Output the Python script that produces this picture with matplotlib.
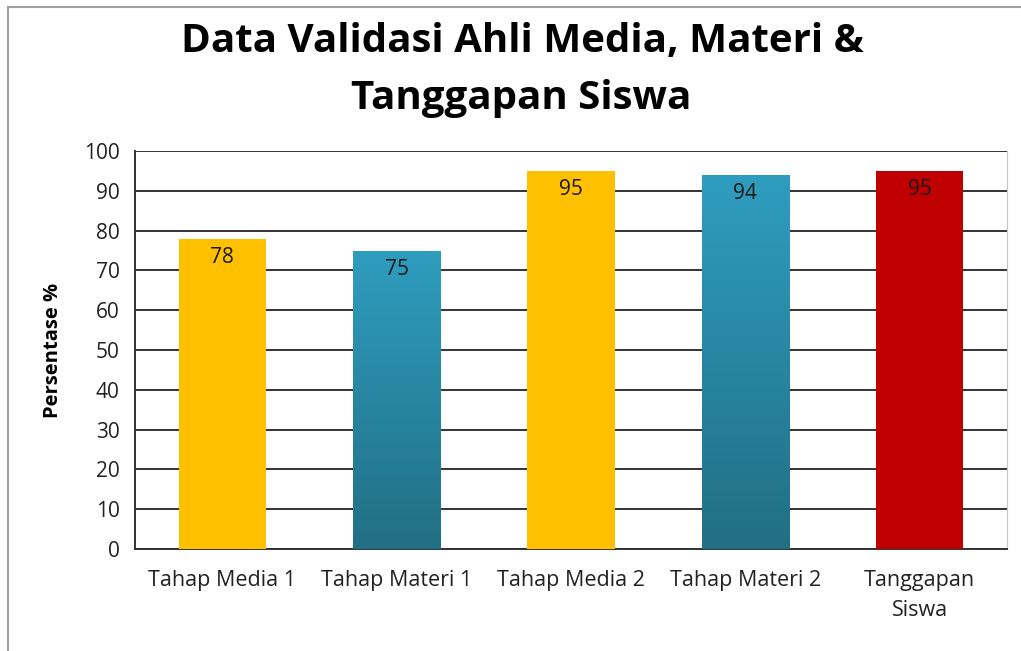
import numpy as np
import matplotlib.pyplot as plt
from matplotlib.colors import LinearSegmentedColormap
from matplotlib.lines import Line2D

plt.rcParams['font.family'] = ['Open Sans', 'DejaVu Sans']

# data
categories = ['Tahap Media 1', 'Tahap Materi 1', 'Tahap Media 2', 'Tahap Materi 2', 'Tanggapan\nSiswa']
values = [78, 75, 95, 94, 95]
bar_colors = ['#FFC000', 'teal', '#FFC000', 'teal', '#C00000']
yticks = list(range(0, 101, 10))
title_lines = ['Data Validasi Ahli Media, Materi &', 'Tanggapan Siswa']

fig = plt.figure(figsize=(10.21, 6.51), dpi=100)
ax = fig.add_axes([0.1322, 0.1567, 0.8541, 0.6113])

x = np.arange(len(categories))
bars = ax.bar(x, values, width=0.5, color=[c if c != 'teal' else '#2A87A3' for c in bar_colors], zorder=3)

# teal bars get a vertical gradient (light top, darker bottom)
teal_cmap = LinearSegmentedColormap.from_list('teal', ['#216F84', '#2F9DBF'])
grad = np.linspace(0, 1, 256).reshape(-1, 1)
for b, c in zip(bars, bar_colors):
    if c == 'teal':
        im = ax.imshow(grad, cmap=teal_cmap, origin='lower', aspect='auto', zorder=4,
                       extent=[b.get_x(), b.get_x() + b.get_width(), 0, b.get_height()])
        im.set_clip_path(b)

# value labels inside top of bars
for xi, v in zip(x, values):
    ax.annotate(str(v), (xi, v), xytext=(0, -6), textcoords='offset points',
                ha='center', va='top', fontsize=15, color='#1a1a1a', zorder=5)

ax.set_xlim(-0.5, len(categories) - 0.5)
ax.set_ylim(0, 100)
ax.set_yticks(yticks)
ax.set_xticks(x)
ax.set_xticklabels(categories, fontsize=15.5, color='#222222', linespacing=1.6)
ax.tick_params(axis='y', labelsize=15, labelcolor='#222222', length=0, pad=11)
ax.tick_params(axis='x', length=0, pad=15)
ax.yaxis.grid(True, color='#333333', linewidth=1.4, zorder=0)
ax.set_axisbelow(True)

for s in ['left', 'bottom']:
    ax.spines[s].set_color('#333333')
    ax.spines[s].set_linewidth(1.4)
ax.spines['right'].set_color('#c8c8c8')
ax.spines['top'].set_visible(False)

ax.set_ylabel('Persentase %', fontsize=14.5, fontweight='bold', labelpad=15)

# two-line title
fig.text(522 / 1021, 1 - 52 / 651, title_lines[0], ha='center', va='baseline',
         fontsize=29, fontweight='bold')
fig.text(521 / 1021, 1 - 109 / 651, title_lines[1], ha='center', va='baseline',
         fontsize=29, fontweight='bold')

# outer border (top and left)
fig.add_artist(Line2D([8 / 1021, 1.0], [1 - 7 / 651, 1 - 7 / 651], color='#a0a0a0', lw=1.5))
fig.add_artist(Line2D([8 / 1021, 8 / 1021], [0.0, 1 - 7 / 651], color='#a0a0a0', lw=1.5))

fig.savefig('out.png', dpi=100)
